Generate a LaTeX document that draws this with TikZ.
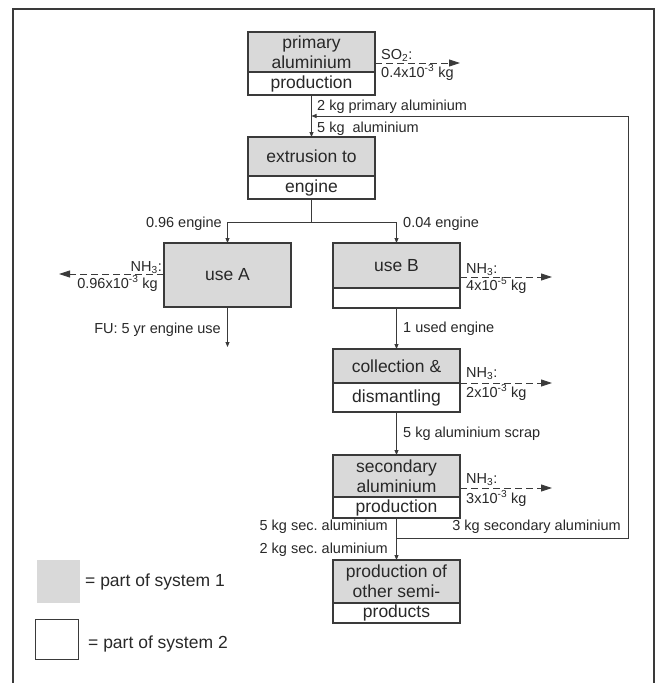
\documentclass[tikz,border=0pt]{standalone}
\usepackage{fontspec}
\setmainfont{Liberation Sans}
\usetikzlibrary{arrows.meta, positioning}
\definecolor{boxgray}{RGB}{217,217,217}
\definecolor{linegray}{RGB}{58,58,58}
\definecolor{textgray}{RGB}{40,40,40}
\newcommand{\boxfont}{\fontsize{17.5}{20}\selectfont}
\newcommand{\lblfont}{\fontsize{14.5}{16}\selectfont}
\frenchspacing

\begin{document}
\begin{tikzpicture}[x=1pt, y=1pt,
  every node/.style={text=textgray},
  upper/.style={rectangle, draw=linegray, line width=1.2pt, fill=boxgray, minimum width=127pt, anchor=north, align=center, font=\boxfont, inner sep=1pt, outer sep=0pt},
  lower/.style={rectangle, draw=linegray, line width=1.2pt, fill=white, minimum width=127pt, align=center, font=\boxfont, inner sep=1pt, outer sep=0pt},
  lbl/.style={font=\lblfont, inner sep=0pt},
  keytxt/.style={font=\boxfont, inner sep=0pt},
  flow/.style={draw=linegray, line width=0.9pt},
  arrow/.style={-{Triangle[length=5pt, width=4pt]}, draw=linegray, line width=0.9pt},
  emis/.style={-{Triangle[length=11pt, width=7pt]}, draw=linegray, line width=0.9pt, dash pattern=on 7pt off 4pt},
]
\useasboundingbox (0,0) rectangle (656,-683);
\draw[linegray, line width=1.5pt] (13,-683) -- (13,-9) -- (654,-9) -- (654,-683);

% process boxes
\node[upper, minimum height=40pt] (prim) at (311.5,-32) {primary\\aluminium};
\node[lower, minimum height=23pt, below=0pt of prim] (primL) {production};
\node[upper, minimum height=39pt] (extr) at (311.5,-137) {extrusion to};
\node[lower, minimum height=23pt, below=0pt of extr] (extrL) {engine};
\node[upper, minimum height=64pt] (useA) at (227.5,-243) {use A};
\node[upper, minimum height=45pt] (useB) at (396.5,-243) {use B};
\node[lower, minimum height=20pt, below=0pt of useB] (useBL) {};
\node[upper, minimum height=34pt] (coll) at (396.5,-349) {collection \&};
\node[lower, minimum height=29pt, below=0pt of coll] (collL) {dismantling};
\node[upper, minimum height=42pt] (sec) at (396.5,-455) {secondary\\aluminium};
\node[lower, minimum height=21pt, below=0pt of sec] (secL) {production};
\node[upper, minimum height=43pt] (prod) at (396.5,-560) {production of\\other semi-};
\node[lower, minimum height=20pt, below=0pt of prod] (prodL) {products};

\coordinate (split1) at (311.5,-222);
\coordinate (fuEnd) at (227.5,-347);
\coordinate (split2) at (396.5,-538);
\coordinate (ret) at (628,-538);
\coordinate (joinA) at (311.5,-116);

% material flows
\draw[arrow] (primL) -- (extr);
\draw[flow] (extrL) -- (split1);
\draw[arrow] (split1) -| (useA);
\draw[arrow] (split1) -| (useB);
\draw[arrow] (useA) -- (fuEnd);
\draw[arrow] (useBL) -- (coll);
\draw[arrow] (collL) -- (sec);
\draw[flow] (secL) -- (split2);
\draw[arrow] (split2) -- (prod);
\draw[arrow] (split2) -- (ret) |- (joinA);

\node[lbl, anchor=base west] (lblPrim) at (317,-110) {2 kg primary aluminium};
\node[lbl, anchor=base west] (lblAlu) at (317,-132) {5 kg\ \ aluminium};
\node[lbl, anchor=base east] (lblA) at (222,-227) {0.96 engine};
\node[lbl, anchor=base west] (lblB) at (403,-227) {0.04 engine};
\node[lbl, anchor=base east] (lblFU) at (221,-333) {FU: 5 yr engine use};
\node[lbl, anchor=base west] (lblUsed) at (403,-332) {1 used engine};
\node[lbl, anchor=base west] (lblScrap) at (403,-437) {5 kg aluminium scrap};
\node[lbl, anchor=base east] (lblSec5) at (388,-530) {5 kg sec. aluminium};
\node[lbl, anchor=base east] (lblSec2) at (388,-553) {2 kg sec. aluminium};
\node[lbl, anchor=base east] (lblSec3) at (621,-530) {3 kg secondary aluminium};

% emissions
\coordinate (so2End) at (460,-63);
\coordinate (nhAEnd) at (59,-274);
\coordinate (nhBEnd) at (552,-277);
\coordinate (nhCEnd) at (552,-383);
\coordinate (nhDEnd) at (552,-488);
\draw[emis] (so2End -| prim.east) -- (so2End);
\draw[emis] (nhAEnd -| useA.west) -- (nhAEnd);
\draw[emis] (nhBEnd -| useB.east) -- (nhBEnd);
\draw[emis] (nhCEnd -| coll.east) -- (nhCEnd);
\draw[emis] (nhDEnd -| sec.east) -- (nhDEnd);

\node[lbl, anchor=base west] (so2Top) at (381,-59) {SO\textsubscript{2}:};
\node[lbl, anchor=base west] (so2Bot) at (381,-77) {0.4x10\textsuperscript{-3} kg};
\node[lbl, anchor=base east] (nhATop) at (162,-271) {NH\textsubscript{3}:};
\node[lbl, anchor=base east] (nhABot) at (158,-288) {0.96x10\textsuperscript{-3} kg};
\node[lbl, anchor=base west] (nhBTop) at (466,-273) {NH\textsubscript{3}:};
\node[lbl, anchor=base west] (nhBBot) at (466,-290) {4x10\textsuperscript{-5} kg};
\node[lbl, anchor=base west] (nhCTop) at (466,-377) {NH\textsubscript{3}:};
\node[lbl, anchor=base west] (nhCBot) at (466,-397) {2x10\textsuperscript{-3} kg};
\node[lbl, anchor=base west] (nhDTop) at (466,-483) {NH\textsubscript{3}:};
\node[lbl, anchor=base west] (nhDBot) at (466,-503) {3x10\textsuperscript{-3} kg};

% legend
\node[rectangle, fill=boxgray, minimum size=43pt, inner sep=0pt, anchor=north west] (key1) at (37,-560) {};
\node[keytxt, anchor=west] (key1Txt) at (85,-581.5) {= part of system 1};
\node[rectangle, draw=linegray, line width=1.2pt, minimum width=43pt, minimum height=40pt, inner sep=0pt, anchor=north west] (key2) at (35,-619) {};
\node[keytxt, anchor=west] (key2Txt) at (88,-644) {= part of system 2};

\end{tikzpicture}
\end{document}
